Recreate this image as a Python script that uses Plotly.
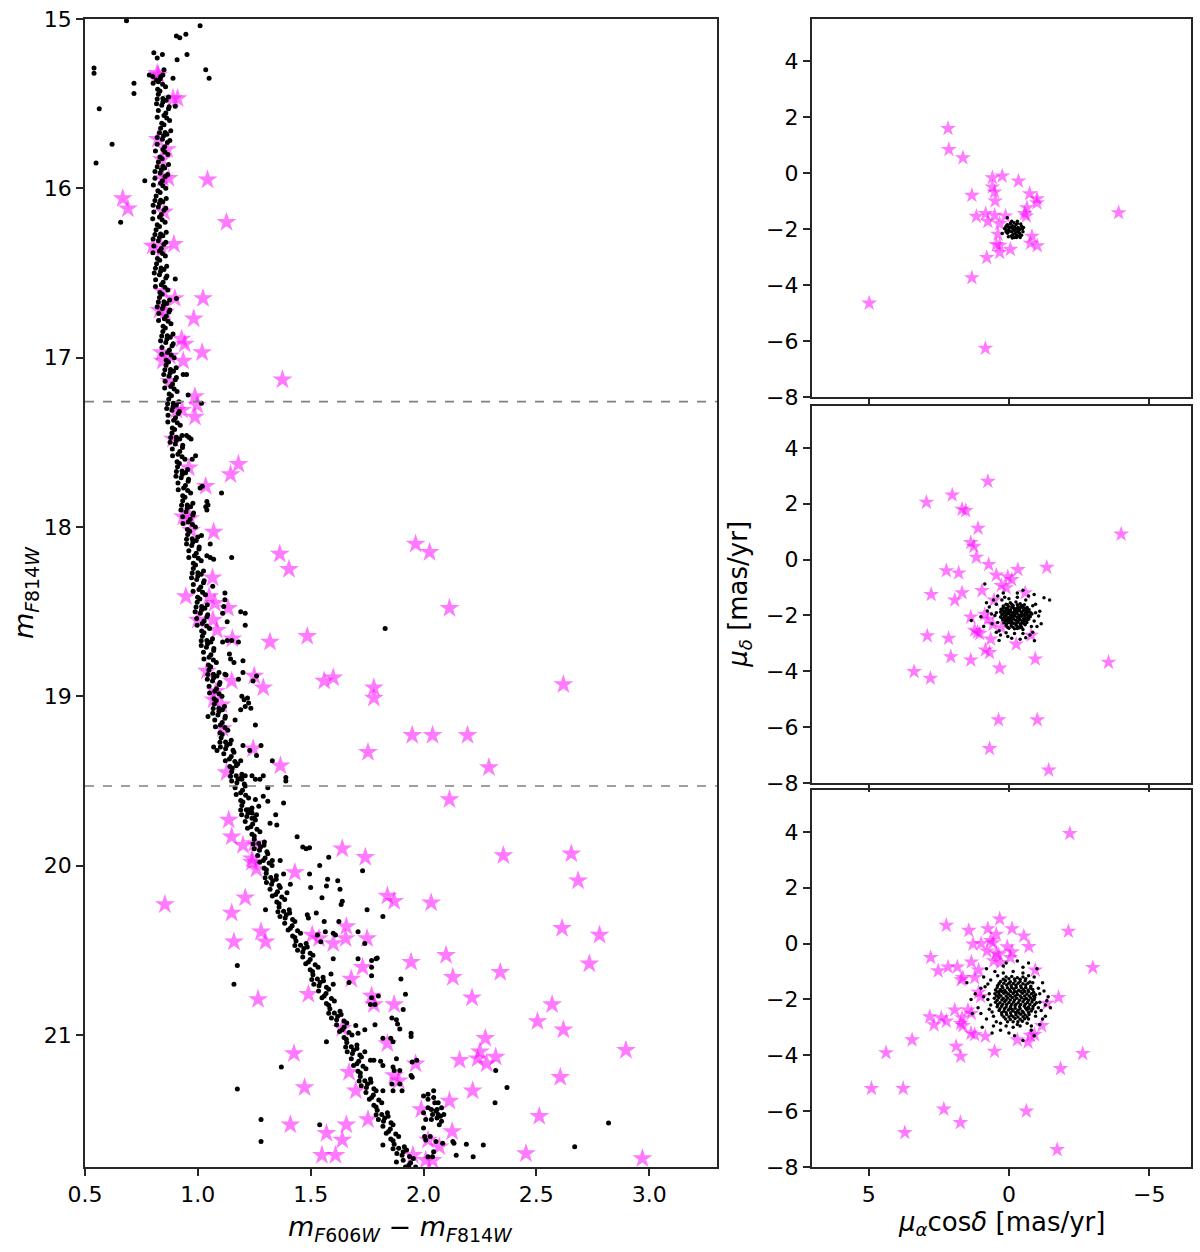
import plotly.graph_objects as go

# ---------------- CMD (left panel) ----------------
# main-sequence ridge members: (colour m606-m814, magnitude m814)
cmd_ridge = [
(0.800,15.34),(0.825,15.37),(0.845,15.33),(0.833,15.355),
(0.822,15.415),(0.857,15.40),(0.802,15.38),(0.844,15.385),(0.832,15.425),
(0.870,15.46),(0.825,15.445),(0.845,15.47),(0.820,15.472),
(0.860,15.48),(0.840,15.51),(0.873,15.518),(0.817,15.50),(0.845,15.49),
(0.825,15.54),(0.850,15.57),(0.870,15.53),(0.858,15.555),
(0.840,15.615),(0.875,15.60),(0.820,15.58),(0.862,15.585),(0.850,15.625),
(0.880,15.66),(0.835,15.645),(0.855,15.67),(0.830,15.672),
(0.863,15.68),(0.843,15.71),(0.876,15.718),(0.820,15.70),(0.848,15.69),
(0.820,15.74),(0.845,15.77),(0.865,15.73),(0.853,15.755),
(0.832,15.815),(0.867,15.80),(0.812,15.78),(0.854,15.785),(0.842,15.825),
(0.870,15.86),(0.825,15.845),(0.845,15.87),(0.820,15.872),
(0.853,15.88),(0.833,15.91),(0.866,15.918),(0.810,15.90),(0.838,15.89),
(0.810,15.94),(0.835,15.97),(0.855,15.93),(0.843,15.955),
(0.823,16.015),(0.858,16.00),(0.803,15.98),(0.845,15.985),(0.833,16.025),
(0.860,16.06),(0.815,16.045),(0.835,16.07),(0.810,16.072),
(0.845,16.08),(0.825,16.11),(0.858,16.118),(0.802,16.10),(0.830,16.09),
(0.805,16.14),(0.830,16.17),(0.850,16.13),(0.838,16.155),
(0.820,16.215),(0.855,16.20),(0.800,16.18),(0.842,16.185),(0.830,16.225),
(0.860,16.26),(0.815,16.245),(0.835,16.27),(0.810,16.272),
(0.845,16.28),(0.825,16.31),(0.858,16.318),(0.802,16.30),(0.830,16.29),
(0.805,16.34),(0.830,16.37),(0.850,16.33),(0.838,16.355),
(0.821,16.415),(0.856,16.40),(0.801,16.38),(0.843,16.385),(0.831,16.425),
(0.862,16.46),(0.817,16.445),(0.837,16.47),(0.812,16.472),
(0.850,16.48),(0.830,16.51),(0.863,16.518),(0.807,16.50),(0.835,16.49),
(0.813,16.54),(0.838,16.57),(0.858,16.53),(0.846,16.555),
(0.832,16.615),(0.867,16.60),(0.812,16.58),(0.854,16.585),(0.842,16.625),
(0.875,16.66),(0.830,16.645),(0.850,16.67),(0.825,16.672),
(0.863,16.68),(0.843,16.71),(0.876,16.718),(0.820,16.70),(0.848,16.69),
(0.827,16.74),(0.852,16.77),(0.872,16.73),(0.860,16.755),
(0.846,16.815),(0.881,16.80),(0.826,16.78),(0.868,16.785),(0.856,16.825),
(0.890,16.86),(0.845,16.845),(0.865,16.87),(0.840,16.872),
(0.878,16.88),(0.858,16.91),(0.891,16.918),(0.835,16.90),(0.863,16.89),
(0.841,16.94),(0.866,16.97),(0.886,16.93),(0.874,16.955),
(0.860,17.015),(0.895,17.00),(0.840,16.98),(0.882,16.985),(0.870,17.025),
(0.904,17.06),(0.859,17.045),(0.879,17.07),(0.854,17.072),
(0.892,17.08),(0.872,17.11),(0.905,17.118),(0.849,17.10),(0.877,17.09),
(0.855,17.14),(0.880,17.17),(0.900,17.13),(0.888,17.155),
(0.873,17.215),(0.908,17.20),(0.853,17.18),(0.895,17.185),(0.883,17.225),
(0.916,17.26),(0.871,17.245),(0.891,17.27),(0.866,17.272),
(0.905,17.28),(0.885,17.31),(0.918,17.318),(0.862,17.30),(0.890,17.29),
(0.868,17.34),(0.893,17.37),(0.913,17.33),(0.901,17.355),
(0.887,17.415),(0.922,17.40),(0.867,17.38),(0.909,17.385),(0.897,17.425),
(0.930,17.46),(0.885,17.445),(0.905,17.47),(0.880,17.472),
(0.920,17.48),(0.900,17.51),(0.933,17.518),(0.877,17.50),(0.905,17.49),
(0.887,17.54),(0.912,17.57),(0.932,17.53),(0.920,17.555),
(0.908,17.615),(0.943,17.60),(0.888,17.58),(0.930,17.585),(0.918,17.625),
(0.955,17.66),(0.910,17.645),(0.930,17.67),(0.905,17.672),
(0.946,17.68),(0.926,17.71),(0.959,17.718),(0.903,17.70),(0.931,17.69),
(0.912,17.74),(0.937,17.77),(0.957,17.73),(0.945,17.755),
(0.933,17.815),(0.968,17.80),(0.913,17.78),(0.955,17.785),(0.943,17.825),
(0.978,17.86),(0.933,17.845),(0.953,17.87),(0.928,17.872),
(0.968,17.88),(0.948,17.91),(0.981,17.918),(0.925,17.90),(0.953,17.89),
(0.933,17.94),(0.958,17.97),(0.978,17.93),(0.966,17.955),
(0.954,18.015),(0.989,18.00),(0.934,17.98),(0.976,17.985),(0.964,18.025),
(1.000,18.06),(0.955,18.045),(0.975,18.07),(0.950,18.072),
(0.993,18.08),(0.973,18.11),(1.006,18.118),(0.950,18.10),(0.978,18.09),
(0.960,18.14),(0.985,18.17),(1.005,18.13),(0.993,18.155),
(0.980,18.215),(1.015,18.20),(0.960,18.18),(1.002,18.185),(0.990,18.225),
(1.025,18.26),(0.980,18.245),(1.000,18.27),(0.975,18.272),
(1.015,18.28),(0.995,18.31),(1.028,18.318),(0.972,18.30),(1.000,18.29),
(0.980,18.34),(1.005,18.37),(1.025,18.33),(1.013,18.355),
(0.999,18.415),(1.034,18.40),(0.979,18.38),(1.021,18.385),(1.009,18.425),
(1.042,18.46),(0.997,18.445),(1.017,18.47),(0.992,18.472),
(1.031,18.48),(1.011,18.51),(1.044,18.518),(0.988,18.50),(1.016,18.49),
(0.995,18.54),(1.020,18.57),(1.040,18.53),(1.028,18.555),
(1.017,18.615),(1.052,18.60),(0.997,18.58),(1.039,18.585),(1.027,18.625),
(1.065,18.66),(1.020,18.645),(1.040,18.67),(1.015,18.672),
(1.058,18.68),(1.038,18.71),(1.071,18.718),(1.015,18.70),(1.043,18.69),
(1.025,18.74),(1.050,18.77),(1.070,18.73),(1.058,18.755),
(1.047,18.815),(1.082,18.80),(1.027,18.78),(1.069,18.785),(1.057,18.825),
(1.094,18.86),(1.049,18.845),(1.069,18.87),(1.044,18.872),
(1.085,18.88),(1.065,18.91),(1.098,18.918),(1.042,18.90),(1.070,18.89),
(1.050,18.94),(1.075,18.97),(1.095,18.93),(1.083,18.955),
(1.072,19.015),(1.107,19.00),(1.052,18.98),(1.094,18.985),(1.082,19.025),
(1.118,19.06),(1.073,19.045),(1.093,19.07),(1.068,19.072),
(1.109,19.08),(1.089,19.11),(1.122,19.118),(1.066,19.10),(1.094,19.09),
(1.075,19.14),(1.100,19.17),(1.120,19.13),(1.108,19.155),
(1.098,19.215),(1.133,19.20),(1.078,19.18),(1.120,19.185),(1.108,19.225),
(1.148,19.26),(1.103,19.245),(1.123,19.27),(1.098,19.272),
(1.143,19.28),(1.123,19.31),(1.156,19.318),(1.100,19.30),(1.128,19.29),
(1.115,19.34),(1.140,19.37),(1.160,19.33),(1.148,19.355),
(1.142,19.415),(1.177,19.40),(1.122,19.38),(1.164,19.385),(1.152,19.425),
(1.195,19.46),(1.150,19.445),(1.170,19.47),(1.145,19.472),
(1.193,19.48),(1.173,19.51),(1.206,19.518),(1.150,19.50),(1.178,19.49),
(1.165,19.54),(1.190,19.57),(1.210,19.53),(1.198,19.555),
(1.190,19.615),(1.225,19.60),(1.170,19.58),(1.212,19.585),(1.200,19.625),
(1.240,19.66),(1.195,19.645),(1.215,19.67),(1.190,19.672),
(1.237,19.68),(1.217,19.71),(1.250,19.718),(1.194,19.70),(1.222,19.69),
(1.210,19.74),(1.235,19.77),(1.255,19.73),(1.243,19.755),
(1.240,19.815),(1.275,19.80),(1.220,19.78),(1.262,19.785),(1.250,19.825),
(1.295,19.86),(1.250,19.845),(1.270,19.87),(1.245,19.872),
(1.293,19.88),(1.273,19.91),(1.306,19.918),(1.250,19.90),(1.278,19.89),
(1.265,19.94),(1.290,19.97),(1.310,19.93),(1.298,19.955),
(1.294,20.015),(1.329,20.00),(1.274,19.98),(1.316,19.985),(1.304,20.025),
(1.348,20.06),(1.303,20.045),(1.323,20.07),(1.298,20.072),
(1.347,20.08),(1.327,20.11),(1.360,20.118),(1.304,20.10),(1.332,20.09),
(1.320,20.14),(1.345,20.17),(1.365,20.13),(1.353,20.155),
(1.350,20.215),(1.385,20.20),(1.330,20.18),(1.372,20.185),(1.360,20.225),
(1.405,20.26),(1.360,20.245),(1.380,20.27),(1.355,20.272),
(1.407,20.28),(1.387,20.31),(1.420,20.318),(1.364,20.30),(1.392,20.29),
(1.385,20.34),(1.410,20.37),(1.430,20.33),(1.418,20.355),
(1.420,20.415),(1.455,20.40),(1.400,20.38),(1.442,20.385),(1.430,20.425),
(1.480,20.46),(1.435,20.445),(1.455,20.47),(1.430,20.472),
(1.485,20.48),(1.465,20.51),(1.498,20.518),(1.442,20.50),(1.470,20.49),
(1.465,20.54),(1.490,20.57),(1.510,20.53),(1.498,20.555),
(1.498,20.615),(1.533,20.60),(1.478,20.58),(1.520,20.585),(1.508,20.625),
(1.555,20.66),(1.510,20.645),(1.530,20.67),(1.505,20.672),
(1.557,20.68),(1.537,20.71),(1.570,20.718),(1.514,20.70),(1.542,20.69),
(1.535,20.74),(1.560,20.77),(1.580,20.73),(1.568,20.755),
(1.570,20.815),(1.605,20.80),(1.550,20.78),(1.592,20.785),(1.580,20.825),
(1.630,20.86),(1.585,20.845),(1.605,20.87),(1.580,20.872),
(1.635,20.88),(1.615,20.91),(1.648,20.918),(1.592,20.90),(1.620,20.89),
(1.615,20.94),(1.640,20.97),(1.660,20.93),(1.648,20.955),
(1.648,21.015),(1.683,21.00),(1.628,20.98),(1.670,20.985),(1.658,21.025),
(1.705,21.06),(1.660,21.045),(1.680,21.07),(1.655,21.072),
(1.705,21.08),(1.685,21.11),(1.718,21.118),(1.662,21.10),(1.690,21.09),
(1.680,21.14),(1.705,21.17),(1.725,21.13),(1.713,21.155),
(1.710,21.215),(1.745,21.20),(1.690,21.18),(1.732,21.185),(1.720,21.225),
(1.765,21.26),(1.720,21.245),(1.740,21.27),(1.715,21.272),
(1.767,21.28),(1.747,21.31),(1.780,21.318),(1.724,21.30),(1.752,21.29),
(1.745,21.34),(1.770,21.37),(1.790,21.33),(1.778,21.355),
(1.780,21.415),(1.815,21.40),(1.760,21.38),(1.802,21.385),(1.790,21.425),
(1.840,21.46),(1.795,21.445),(1.815,21.47),(1.790,21.472),
(1.843,21.48),(1.823,21.51),(1.856,21.518),(1.800,21.50),(1.828,21.49),
(1.820,21.54),(1.845,21.57),(1.865,21.53),(1.853,21.555),
(1.855,21.615),(1.890,21.60),(1.835,21.58),(1.877,21.585),(1.865,21.625),
(1.915,21.66),(1.870,21.645),(1.890,21.67),(1.865,21.672),
(1.925,21.68),(1.905,21.71),(1.938,21.718),(1.882,21.70),(1.910,21.69),
(1.910,21.74),(1.935,21.77),(1.955,21.73),(1.943,21.755),(1.965,21.78),(1.920,21.78),
]

# scattered black stars (field / binaries / evolved)
cmd_scatter = [
(0.684,15.01),(1.010,15.04),(0.905,15.10),(0.920,15.11),(0.947,15.09),(0.805,15.20),
(0.843,15.21),(0.820,15.23),(0.908,15.24),(0.952,15.21),(0.540,15.29),(0.540,15.32),
(1.035,15.30),(1.050,15.35),(0.785,15.33),(0.850,15.30),(0.836,15.34),(0.817,15.36),
(0.890,15.35),(0.717,15.38),(0.717,15.44),(0.563,15.53),(0.900,15.515),(0.620,15.74),
(0.549,15.85),(0.765,15.955),(0.658,16.20),(0.900,16.535),(0.905,16.65),(0.935,17.10),
(0.950,17.10),
(0.957,17.22),(1.016,17.27),(0.950,17.46),(0.960,17.47),(0.970,17.48),(0.990,17.58),
(0.975,17.60),(1.105,17.80),(1.020,17.76),(1.010,17.77),(1.040,17.85),(1.035,17.88),
(1.040,17.90),(1.045,17.87),(1.016,18.05),(1.055,18.10),(1.040,18.17),(1.055,18.18),
(1.070,18.19),(1.150,18.18),(1.830,18.60),
(1.066,18.35),(1.120,18.39),(1.120,18.43),(1.115,18.47),(1.110,18.51),(1.190,18.50),
(1.210,18.51),(1.210,18.58),(1.130,18.56),(1.110,18.68),(1.130,18.67),(1.150,18.67),
(1.180,18.68),(1.140,18.75),(1.145,18.78),(1.160,18.80),(1.200,18.79),(1.120,18.87),
(1.125,18.875),(1.180,18.90),(1.200,18.86),(1.245,18.91),(1.260,18.88),(1.195,19.00),
(1.205,19.02),(1.220,19.01),(1.225,19.04),(1.235,19.07),(1.210,19.06),(1.190,19.08),
(1.165,19.14),(1.255,19.17),(1.045,19.12),(1.070,19.30),(1.085,19.32),(1.200,19.29),
(1.230,19.32),(1.260,19.35),(1.280,19.29),(1.190,19.38),(1.170,19.41),(1.330,19.38),
(1.240,19.47),(1.255,19.49),(1.210,19.47),(1.195,19.49),(1.290,19.47),(1.275,19.49),
(1.390,19.48),(1.390,19.50),(1.310,19.54),(1.290,19.59),(1.255,19.61),(1.270,19.65),
(1.310,19.62),(1.380,19.63),(1.225,19.67),(1.240,19.69),(1.260,19.70),(1.240,19.72),
(1.345,19.70),(1.320,19.75),(1.440,19.83),(1.465,19.89),(1.480,19.90),(1.495,19.895),
(1.580,19.95),(1.330,19.97),(1.365,19.97),(1.350,19.76),
(1.730,20.03),(1.540,20.00),(1.495,20.05),(1.380,20.05),(1.575,20.08),(1.620,20.09),
(1.570,20.12),(1.630,20.14),(1.500,20.13),(1.410,20.11),(1.395,20.16),(1.550,20.19),
(1.640,20.21),(1.635,20.23),(1.750,20.26),(1.820,20.30),(1.300,20.26),(1.485,20.29),
(1.490,20.31),(1.525,20.28),(1.560,20.33),(1.565,20.39),(1.600,20.40),(1.625,20.33),
(1.610,20.41),(1.710,20.39),(1.740,20.46),(1.530,20.41),(1.545,20.45),(1.600,20.55),
(1.710,20.55),(1.770,20.56),(1.790,20.55),(1.795,20.545),(1.770,20.60),(1.770,20.65),
(1.590,20.64),(1.600,20.70),(1.670,20.69),(1.900,20.67),(1.800,20.77),(1.770,20.78),
(1.765,20.82),(1.785,20.82),(1.920,20.76),(1.910,20.85),(1.860,20.90),(1.880,20.91),
(1.885,20.935),(1.895,20.965),(1.700,20.945),(1.710,20.99),(1.740,20.97),(1.785,20.94),
(1.820,21.02),(1.855,21.02),(1.865,21.04),(1.945,20.99),(1.945,21.01),(1.570,21.04),
(1.740,21.10),(1.780,21.15),(1.810,21.155),(1.765,21.15),(1.880,21.14),(1.820,21.18),
(1.865,21.19),(1.870,21.21),(1.895,21.21),(1.950,21.16),(1.970,21.15),(1.945,21.24),
(1.950,21.25),(1.860,21.29),(1.895,21.29),(1.820,21.33),(1.865,21.33),(1.905,21.33),
(1.370,21.19),(1.175,20.59),(1.160,20.70),(1.175,21.32),(1.280,21.50),(1.280,21.63),
(1.540,21.53),(1.820,21.65),(1.880,21.75),
(2.000,21.36),(2.020,21.35),(2.045,21.33),(2.020,21.38),(2.045,21.37),(2.050,21.40),
(2.065,21.40),(2.080,21.43),(2.020,21.43),(2.035,21.44),(2.055,21.45),(2.000,21.46),
(2.040,21.47),(2.065,21.47),(2.010,21.50),(2.035,21.50),(2.060,21.49),(2.090,21.47),
(2.080,21.51),(2.070,21.53),(2.000,21.55),(2.005,21.60),(2.010,21.62),(2.030,21.60),
(2.055,21.63),(2.085,21.64),(2.045,21.69),(2.020,21.72),(2.040,21.72),(2.130,21.63),
(2.135,21.64),(2.190,21.645),(2.265,21.65),(2.220,21.72),(2.145,21.71),(2.320,21.21),
(2.370,21.31),(2.317,21.40),(2.820,21.52),(2.670,21.66),(2.060,21.44),(2.075,21.48),
]

# magenta stars (non-members) in the CMD
cmd_stars = [
(0.820,15.32),(0.825,15.33),(0.890,15.47),(0.910,15.47),(0.823,15.71),(0.863,15.77),
(0.840,15.83),(0.845,15.94),(0.870,15.94),(1.043,15.95),(0.667,16.06),(0.690,16.12),
(0.850,16.14),(1.127,16.20),(0.894,16.33),(0.800,16.34),(0.840,16.36),(0.845,16.61),
(0.898,16.65),(1.023,16.65),(0.830,16.72),(0.855,16.73),(0.982,16.77),(0.928,16.89),
(0.942,16.92),(1.019,16.97),(0.840,16.97),(0.876,16.99),(0.935,17.02),(0.845,17.02),
(1.375,17.13),(0.876,17.14),(0.987,17.23),(0.997,17.28),(0.987,17.35),(0.905,17.31),
(0.930,17.31),(0.890,17.48),(1.180,17.63),(1.145,17.69),(1.035,17.76),(0.960,17.65),
(0.935,17.94),(0.965,17.95),(0.970,18.02),(1.070,18.03),(1.363,18.16),(1.404,18.25),
(1.065,18.30),(0.947,18.41),(1.050,18.41),(1.075,18.45),(1.134,18.48),(1.000,18.55),
(1.067,18.55),(1.085,18.61),(1.153,18.66),(1.320,18.68),(1.485,18.645),(1.250,18.88),
(1.290,18.95),(1.560,18.91),(1.600,18.89),(1.780,18.95),(1.780,19.01),(1.040,18.85),
(1.150,18.91),(1.080,18.97),(1.070,19.02),(1.105,19.05),(1.110,19.19),(1.245,19.31),
(1.754,19.33),(1.366,19.41),(1.127,19.45),(1.137,19.73),(1.150,19.83),(1.200,19.88),
(1.250,19.87),(1.240,19.96),(1.640,19.90),(1.742,19.95),(1.965,18.10),(2.027,18.15),
(2.115,18.48),(2.620,18.93),(1.950,19.23),(2.040,19.23),(2.195,19.23),(2.290,19.42),
(2.115,19.61),(2.354,19.94),(2.655,19.93),(2.685,20.09),(1.430,20.04),(1.840,20.18),
(1.870,20.21),(2.034,20.22),(2.614,20.37),(2.780,20.41),(2.735,20.58),(1.507,20.41),
(1.537,20.43),(1.600,20.46),(1.658,20.36),(1.655,20.43),(1.750,20.43),(1.945,20.57),
(2.100,20.53),(2.130,20.66),(2.340,20.63),(1.680,20.67),(1.730,20.60),(2.215,20.78),
(2.570,20.82),(2.505,20.92),(2.620,20.97),(1.490,20.76),(1.770,20.77),(1.780,20.82),
(1.870,20.82),(2.274,21.02),(2.250,21.10),(2.240,21.14),(2.280,21.17),(2.320,21.13),
(2.160,21.15),(2.897,21.09),(1.426,21.11),(1.840,21.05),(1.670,21.22),(1.870,21.24),
(1.890,21.27),(1.965,21.17),(2.606,21.25),(1.473,21.31),(1.700,21.33),(2.218,21.33),
(2.115,21.39),(1.990,21.44),(2.513,21.48),(1.410,21.53),(1.658,21.53),(1.754,21.50),
(1.570,21.58),(1.640,21.62),(2.127,21.57),(2.020,21.62),(2.070,21.66),(1.550,21.71),
(1.610,21.71),(2.454,21.70),(2.010,21.74),(2.040,21.74),(1.953,21.71),(0.854,20.23),
(1.240,19.98),(1.260,20.02),(1.210,20.19),(1.150,20.28),(1.280,20.39),(1.300,20.45),
(1.160,20.45),(1.267,20.79),(1.640,20.96),(2.970,21.73),
]

cut_mags = [17.26, 19.53]

# ---------------- Proper motions (right panels) ----------------
pm_top_black = [
(-0.20,-2.05),(-0.10,-1.95),(-0.30,-2.10),(0.00,-2.00),(-0.40,-2.00),(-0.25,-1.85),
(-0.15,-2.20),(0.05,-2.15),(-0.35,-2.25),(-0.45,-1.90),(0.10,-1.90),(-0.05,-1.80),
(-0.30,-1.80),(-0.20,-2.30),(0.10,-2.10),(-0.50,-2.10),(-0.10,-2.10),(-0.25,-1.98),
(-0.38,-2.15),(0.02,-2.28),(-0.12,-1.88),(-0.42,-1.82),(0.13,-2.00),(-0.28,-2.22),
(-0.08,-2.25),(-0.18,-1.78),(-0.48,-2.00),(0.06,-1.85),(-0.33,-1.95),(-0.22,-2.15),
(-0.02,-2.08),(-0.14,-2.00),(-0.36,-2.05),(-0.05,-1.93),(0.08,-2.05),(-0.27,-2.30),
(-0.40,-2.30),(-0.12,-2.32),(0.15,-1.98),(-0.52,-1.95),(0.06,-1.60),(0.24,-2.16),
(-0.30,-1.72),(-0.10,-1.72),(-0.45,-2.22),(-0.20,-1.92),(-0.32,-2.02),(0.02,-1.92),
]
pm_top_stars = [
(2.17,1.59),(2.14,0.84),(1.64,0.54),(0.59,-0.17),(0.24,-0.11),(-0.34,-0.29),(0.59,-0.50),
(0.51,-0.68),(1.32,-0.80),(0.49,-1.00),(-0.74,-0.74),(-1.00,-0.92),(-1.00,-1.07),
(-0.64,-1.24),(-0.56,-1.45),(-0.62,-1.54),(1.16,-1.55),(0.83,-1.45),(0.51,-1.51),
(0.75,-1.73),(0.33,-1.81),(0.12,-1.54),(0.39,-2.19),(-0.82,-2.26),(0.45,-2.56),
(0.33,-2.58),(0.33,-2.84),(-0.05,-2.73),(-0.77,-2.51),(-1.01,-2.60),(0.79,-3.02),
(1.32,-3.74),(-3.91,-1.42),(4.98,-4.65),(0.84,-6.26),
]

pm_mid_black = [
(-0.05,-1.55),(-0.25,-1.52),(-0.40,-1.58),(0.10,-1.60),(-0.55,-1.62),
(0.20,-1.66),(0.02,-1.68),(-0.15,-1.64),(-0.32,-1.70),(-0.50,-1.66),(-0.65,-1.72),
(0.28,-1.78),(0.12,-1.74),(-0.06,-1.80),(-0.22,-1.76),(-0.38,-1.79),(-0.58,-1.74),(-0.72,-1.80),
(0.30,-1.88),(0.15,-1.86),(0.00,-1.84),(-0.12,-1.90),(-0.28,-1.86),(-0.45,-1.88),(-0.62,-1.85),(-0.78,-1.90),
(0.25,-1.97),(0.08,-1.95),(-0.06,-1.99),(-0.20,-1.94),(-0.35,-1.98),(-0.50,-1.96),(-0.68,-2.00),(-0.82,-1.95),
(0.30,-2.06),(0.16,-2.04),(0.02,-2.08),(-0.14,-2.05),(-0.30,-2.07),(-0.44,-2.03),(-0.60,-2.08),(-0.76,-2.05),
(0.22,-2.16),(0.06,-2.18),(-0.08,-2.14),(-0.24,-2.17),(-0.40,-2.15),(-0.55,-2.19),(-0.70,-2.14),
(0.18,-2.27),(0.00,-2.25),(-0.16,-2.28),(-0.32,-2.24),(-0.48,-2.27),(-0.64,-2.25),
(0.10,-2.36),(-0.08,-2.38),(-0.25,-2.34),(-0.42,-2.37),(-0.58,-2.33),
(0.00,-2.46),(-0.20,-2.48),(-0.38,-2.44),(-0.50,-2.50),
(-0.10,-1.70),(-0.30,-1.80),(-0.15,-2.00),(-0.05,-2.10),(-0.35,-2.10),(-0.25,-2.30),
(0.05,-1.90),(-0.45,-1.95),(-0.20,-1.85),(-0.10,-2.20),(-0.55,-2.00),(-0.30,-2.40),
(0.12,-2.12),(-0.65,-1.95),(-0.40,-1.70),
(0.05,-1.62),(-0.10,-1.60),(-0.30,-1.62),(-0.45,-1.64),(0.20,-1.72),(0.05,-1.76),
(-0.15,-1.72),(-0.30,-1.74),(-0.48,-1.72),(-0.65,-1.78),(0.22,-1.82),(0.08,-1.80),
(-0.05,-1.86),(-0.20,-1.80),(-0.36,-1.84),(-0.52,-1.82),(-0.70,-1.86),(0.18,-1.92),
(0.00,-1.94),(-0.28,-1.92),(-0.42,-2.00),(-0.58,-1.92),(-0.75,-1.98),(0.24,-2.10),
(0.10,-2.02),(-0.08,-2.04),(-0.22,-2.02),(-0.38,-2.02),(-0.52,-2.12),(-0.68,-2.08),
(0.14,-2.20),(-0.02,-2.16),(-0.16,-2.12),(-0.32,-2.20),(-0.48,-2.22),(-0.62,-2.18),
(0.08,-2.30),(-0.08,-2.30),(-0.40,-2.30),(-0.55,-2.30),(-0.15,-2.42),(-0.30,-2.47),
(0.05,-2.42),(-0.45,-2.42),
(0.45,-1.60),(0.40,-2.25),(0.35,-2.55),(-0.85,-1.65),(-0.90,-2.20),(-0.80,-2.40),
(-0.60,-1.45),(0.25,-1.45),(-0.20,-2.65),(0.10,-2.62),(-0.50,-2.65),(0.45,-1.90),
(-0.95,-1.90),(-0.30,-1.35),(0.00,-1.40),
(0.86,-0.87),(-1.25,-1.37),(-1.45,-1.45),(1.34,-2.18),(-0.91,-2.91),(0.04,-2.75),
(-0.10,-2.82),(0.77,-1.84),(0.70,-1.70),(-0.50,-1.10),(-1.06,-2.02),(0.55,-1.45),
(0.60,-2.30),(0.45,-2.60),(-0.95,-1.60),(-1.00,-2.40),(0.40,-1.30),(0.20,-1.20),
(-0.70,-1.30),(-0.85,-2.60),(-0.60,-2.80),(0.30,-2.70),(0.50,-2.00),(0.62,-1.95),
(-1.10,-1.85),(0.90,-2.40),(0.80,-1.55),(-0.30,-1.20),(-0.90,-1.25),(0.35,-2.90),
(-0.40,-2.85),(1.00,-2.05),(-1.15,-2.30),(0.15,-1.35),(-0.75,-2.70),
]
pm_mid_stars = [
(0.75,2.80),(2.02,2.31),(2.94,2.05),(1.67,1.80),(1.54,1.75),(1.10,1.12),(1.36,0.61),
(1.25,0.47),(1.16,0.08),(-4.00,0.91),(0.72,-0.18),(2.23,-0.40),(1.79,-0.48),(0.45,-0.56),
(-0.32,-0.36),(-1.35,-0.28),(0.04,-0.62),(-0.10,-0.72),(0.27,-0.93),(0.10,-1.01),
(0.96,-1.11),(2.77,-1.25),(1.67,-1.19),(1.93,-1.45),(0.53,-1.45),(-0.58,-1.19),
(1.36,-2.06),(0.86,-1.96),(0.75,-2.14),(0.57,-2.32),(0.27,-2.44),(1.22,-2.53),
(1.04,-2.65),(1.12,-2.60),(2.91,-2.73),(2.15,-2.82),(0.65,-2.85),(-0.79,-2.71),
(-0.26,-3.03),(0.84,-3.24),(0.69,-3.33),(2.07,-3.48),(1.36,-3.60),(-0.94,-3.56),
(0.33,-3.89),(3.38,-4.01),(2.80,-4.25),(-3.55,-3.68),(0.37,-5.74),(-1.01,-5.74),
(0.69,-6.77),(-1.42,-7.54),
]

pm_bot_black = [
(0.10,-1.20),(-0.10,-1.18),(-0.30,-1.22),(-0.50,-1.20),
(0.30,-1.36),(0.12,-1.33),(-0.05,-1.37),(-0.22,-1.34),(-0.40,-1.36),(-0.58,-1.33),(-0.75,-1.38),
(0.40,-1.50),(0.25,-1.52),(0.08,-1.48),(-0.08,-1.51),(-0.25,-1.49),(-0.42,-1.52),(-0.60,-1.48),(-0.78,-1.53),
(0.48,-1.66),(0.30,-1.64),(0.15,-1.67),(-0.02,-1.65),(-0.18,-1.63),(-0.35,-1.67),(-0.52,-1.64),(-0.68,-1.66),(-0.85,-1.64),
(0.50,-1.80),(0.35,-1.82),(0.18,-1.78),(0.02,-1.81),(-0.15,-1.79),(-0.30,-1.82),(-0.48,-1.78),(-0.64,-1.81),(-0.80,-1.80),(-0.95,-1.83),
(0.52,-1.96),(0.36,-1.94),(0.20,-1.97),(0.04,-1.95),(-0.12,-1.93),(-0.28,-1.96),(-0.45,-1.94),(-0.62,-1.97),(-0.78,-1.95),(-0.92,-1.93),
(0.48,-2.10),(0.32,-2.12),(0.15,-2.08),(0.00,-2.11),(-0.17,-2.09),(-0.33,-2.12),(-0.50,-2.08),(-0.66,-2.11),(-0.82,-2.09),(-0.98,-2.12),
(0.42,-2.26),(0.26,-2.24),(0.10,-2.27),(-0.06,-2.25),(-0.22,-2.23),(-0.38,-2.26),(-0.55,-2.24),(-0.70,-2.27),(-0.86,-2.25),
(0.35,-2.40),(0.18,-2.42),(0.02,-2.38),(-0.15,-2.41),(-0.32,-2.39),(-0.48,-2.42),(-0.64,-2.38),(-0.80,-2.41),
(0.25,-2.56),(0.08,-2.54),(-0.08,-2.57),(-0.25,-2.55),(-0.42,-2.53),(-0.58,-2.56),(-0.72,-2.54),
(0.12,-2.70),(-0.05,-2.72),(-0.22,-2.68),(-0.40,-2.71),(-0.56,-2.69),
(-0.20,-1.72),(-0.40,-1.88),(0.10,-1.88),(-0.05,-2.02),(-0.25,-2.18),(-0.55,-2.00),
(0.25,-2.02),(-0.10,-2.35),(-0.70,-1.72),(0.35,-1.72),(-0.35,-2.48),(0.05,-1.58),
(-0.60,-2.32),(0.40,-2.20),(-0.90,-2.00),
(0.20,-1.28),(0.00,-1.26),(-0.20,-1.27),(-0.40,-1.28),(-0.60,-1.26),
(0.35,-1.43),(0.18,-1.42),(0.00,-1.42),(-0.16,-1.43),(-0.33,-1.42),(-0.50,-1.44),(-0.68,-1.42),
(0.42,-1.58),(0.22,-1.58),(-0.10,-1.58),(-0.26,-1.57),(-0.44,-1.58),(-0.60,-1.57),(-0.78,-1.60),
(0.42,-1.73),(0.25,-1.72),(0.10,-1.74),(-0.06,-1.72),(-0.28,-1.73),(-0.42,-1.72),(-0.56,-1.72),(-0.88,-1.74),
(0.44,-1.88),(0.28,-1.88),(-0.05,-1.87),(-0.22,-1.88),(-0.56,-1.88),(-0.72,-1.88),(-0.88,-1.88),
(0.42,-2.03),(0.10,-2.02),(-0.20,-2.02),(-0.38,-2.03),(-0.70,-2.03),(-0.85,-2.02),
(0.40,-2.18),(0.22,-2.17),(0.08,-2.18),(-0.10,-2.17),(-0.42,-2.18),(-0.58,-2.17),(-0.75,-2.18),(-0.92,-2.18),
(0.32,-2.33),(0.16,-2.33),(-0.04,-2.32),(-0.22,-2.32),(-0.40,-2.33),(-0.72,-2.33),(-0.85,-2.33),
(0.26,-2.48),(0.10,-2.47),(-0.06,-2.48),(-0.24,-2.47),(-0.52,-2.48),(-0.70,-2.47),
(0.18,-2.63),(0.00,-2.63),(-0.15,-2.62),(-0.32,-2.63),(-0.50,-2.62),(-0.65,-2.63),
(0.05,-2.80),(-0.15,-2.80),(-0.32,-2.80),(-0.48,-2.78),
(0.75,-1.45),(0.70,-1.80),(0.65,-2.20),(0.60,-2.45),(-1.05,-1.60),(-1.10,-1.80),
(-1.05,-2.30),(-0.95,-2.45),(0.30,-2.85),(-0.70,-2.70),(-0.30,-2.90),(0.40,-1.15),
(-0.70,-1.15),(-0.85,-1.40),(-0.15,-3.00),(0.55,-2.95),(-1.20,-2.70),(1.00,-2.50),
(0.90,-1.90),(-0.50,-0.85),(0.10,-0.70),(-1.30,-2.20),
(1.50,-1.40),(1.20,-1.80),(1.10,-2.30),(1.30,-2.50),(0.90,-1.20),(0.80,-2.70),
(0.95,-3.00),(0.60,-3.20),(0.30,-3.10),(-0.20,-3.30),(-0.50,-3.47),(-0.80,-3.10),
(-1.10,-2.90),(-1.30,-2.60),(-1.48,-2.30),(-1.40,-1.90),(-1.20,-1.40),(-1.00,-0.90),
(-0.70,-0.70),(-0.30,-0.62),(0.20,-0.80),(0.50,-1.00),(0.85,-1.55),(0.70,-2.35),
(0.75,-2.00),(-1.10,-2.10),(-1.25,-1.70),(-0.95,-2.60),(-0.80,-2.95),(0.45,-2.80),
(0.10,-2.95),(-0.40,-2.95),(0.20,-1.05),(-0.50,-1.05),(1.00,-1.60),(-1.35,-2.05),
(0.65,-1.30),(-0.90,-1.20),(0.55,-2.60),(-0.65,-2.85),(-1.15,-2.40),(1.35,-2.00),
(-0.15,-1.00),(0.00,-3.20),(-0.90,-3.30),(0.80,-0.90),
]
pm_bot_stars = [
(-2.17,3.94),(0.33,0.88),(2.23,0.65),(1.43,0.47),(0.75,0.53),(0.45,0.33),(0.65,0.11),
(-0.11,0.53),(-0.53,0.27),(-2.12,0.44),(1.28,-0.02),(0.99,0.00),(0.57,0.03),(0.78,-0.27),
(0.45,-0.35),(0.37,-0.40),(0.06,-0.12),(-0.11,-0.30),(-0.05,-0.50),(-0.71,-0.11),
(2.79,-0.50),(1.34,-0.66),(2.17,-0.84),(1.84,-0.84),(2.52,-0.98),(1.08,-0.95),
(0.54,-0.62),(0.30,-0.68),(-0.94,-0.95),(-2.99,-0.86),(1.64,-1.22),(1.70,-1.30),
(1.22,-1.22),(1.08,-1.75),(1.01,-1.90),(-1.77,-1.93),(-1.36,-2.14),(1.93,-2.38),
(1.46,-2.38),(1.34,-2.50),(1.67,-2.66),(2.82,-2.62),(2.41,-2.66),(2.67,-2.91),
(2.23,-2.78),(1.72,-2.86),(1.64,-2.94),(1.35,-3.21),(1.22,-3.26),(0.84,-3.32),
(-1.17,-2.94),(-0.30,-3.45),(-0.77,-3.29),(-0.91,-3.26),(-0.68,-3.53),(3.45,-3.45),
(1.88,-3.68),(1.72,-4.04),(0.51,-3.86),(4.38,-3.91),(-2.63,-3.94),(-1.84,-4.48),
(4.90,-5.19),(3.77,-5.19),(2.32,-5.93),(-0.62,-6.00),(1.73,-6.41),(3.71,-6.77),
(-1.72,-7.38),
]

# tick definitions
mag_ticks = [15, 16, 17, 18, 19, 20, 21]
color_ticks = [0.5, 1.0, 1.5, 2.0, 2.5, 3.0]
pm_y_ticks = [-8, -6, -4, -2, 0, 2, 4]
pm_x_ticks = [5, 0, -5]


def xs(pts):
    return [p[0] for p in pts]


def ys(pts):
    return [p[1] for p in pts]


def minus(v):
    s = f"{v:g}"
    return s.replace("-", "\u2212")


STAR_COLOR = "rgba(255,0,255,0.52)"
FONT = "DejaVu Sans"

fig = go.Figure()

# CMD
fig.add_trace(go.Scatter(x=xs(cmd_stars), y=ys(cmd_stars), mode="markers",
                         marker=dict(symbol="star", size=15, color=STAR_COLOR, line=dict(width=0)),
                         xaxis="x", yaxis="y", showlegend=False, hoverinfo="skip"))
all_black = cmd_ridge + cmd_scatter
fig.add_trace(go.Scatter(x=xs(all_black), y=ys(all_black), mode="markers",
                         marker=dict(symbol="circle", size=5, color="black", line=dict(width=0)),
                         xaxis="x", yaxis="y", showlegend=False, hoverinfo="skip"))

# PM panels
panels = [("x2", "y2", pm_top_stars, pm_top_black),
          ("x3", "y3", pm_mid_stars, pm_mid_black),
          ("x4", "y4", pm_bot_stars, pm_bot_black)]
for xa, ya, st, bk in panels:
    fig.add_trace(go.Scatter(x=xs(st), y=ys(st), mode="markers",
                             marker=dict(symbol="star", size=12, color=STAR_COLOR, line=dict(width=0)),
                             xaxis=xa, yaxis=ya, showlegend=False, hoverinfo="skip"))
    fig.add_trace(go.Scatter(x=xs(bk), y=ys(bk), mode="markers",
                             marker=dict(symbol="circle", size=3.5, color="black", line=dict(width=0)),
                             xaxis=xa, yaxis=ya, showlegend=False, hoverinfo="skip"))

# dashed magnitude cuts
for m in cut_mags:
    fig.add_shape(type="line", xref="x domain", yref="y", x0=0, x1=1, y0=m, y1=m,
                  line=dict(color="#808080", width=1.6, dash="dash"))

axis_common = dict(showline=True, linecolor="#262626", linewidth=1.6, mirror=True,
                   ticks="outside", ticklen=7, tickwidth=1.6, tickcolor="#262626",
                   showgrid=False, zeroline=False,
                   tickfont=dict(family=FONT, size=22, color="black"))

W, H = 1200, 1252
ml, mr, mt, mb = 85, 7, 13, 85
pw, ph = W - ml - mr, H - mt - mb


def dx(px0, px1):
    return [(px0 - ml) / pw, (px1 - ml) / pw]


def dy(top, bottom):
    return [(H - mb - bottom) / ph, (H - mb - top) / ph]


fig.update_layout(
    width=W, height=H, margin=dict(l=ml, r=mr, t=mt, b=mb),
    paper_bgcolor="white", plot_bgcolor="white",
    font=dict(family=FONT, color="black"),
    xaxis=dict(axis_common, domain=dx(85, 718), range=[0.5, 3.3],
               tickvals=color_ticks, ticktext=[f"{v:.1f}" for v in color_ticks], anchor="y"),
    yaxis=dict(axis_common, domain=dy(13, 1167), range=[21.78, 15.0],
               tickvals=mag_ticks, ticktext=[str(v) for v in mag_ticks], anchor="x"),
    xaxis2=dict(axis_common, domain=dx(813, 1193), range=[7.03, -6.49], anchor="y2",
                tickvals=pm_x_ticks, showticklabels=False),
    yaxis2=dict(axis_common, domain=dy(13, 393), range=[-8, 5.5], anchor="x2",
                tickvals=pm_y_ticks, ticktext=[minus(v) for v in pm_y_ticks]),
    xaxis3=dict(axis_common, domain=dx(813, 1193), range=[7.03, -6.49], anchor="y3",
                tickvals=pm_x_ticks, showticklabels=False),
    yaxis3=dict(axis_common, domain=dy(402, 781), range=[-8, 5.5], anchor="x3",
                tickvals=pm_y_ticks, ticktext=[minus(v) for v in pm_y_ticks]),
    xaxis4=dict(axis_common, domain=dx(813, 1193), range=[7.03, -6.49], anchor="y4",
                tickvals=pm_x_ticks, ticktext=[minus(v) for v in pm_x_ticks]),
    yaxis4=dict(axis_common, domain=dy(788, 1167), range=[-8, 5.5], anchor="x4",
                tickvals=pm_y_ticks, ticktext=[minus(v) for v in pm_y_ticks]),
)


def px_x(p):
    return (p - ml) / pw


def px_y(p):
    return (H - mb - p) / ph


annots = [
    dict(text="<i>m</i><sub><i>F</i>606<i>W</i></sub> \u2212 <i>m</i><sub><i>F</i>814<i>W</i></sub>",
         x=px_x(401), y=px_y(1229), textangle=0, size=27),
    dict(text="<i>m</i><sub><i>F</i>814<i>W</i></sub>",
         x=px_x(25), y=px_y(590), textangle=-90, size=27),
    dict(text="<i>\u03bc</i><sub><i>\u03b1</i></sub>cos<i>\u03b4</i> [mas/yr]",
         x=px_x(1003), y=px_y(1224), textangle=0, size=26),
    dict(text="<i>\u03bc</i><sub><i>\u03b4</i></sub> [mas/yr]",
         x=px_x(741), y=px_y(591), textangle=-90, size=26),
]
for a in annots:
    fig.add_annotation(text=a["text"], x=a["x"], y=a["y"], xref="paper", yref="paper",
                       xanchor="center", yanchor="middle", showarrow=False,
                       textangle=a["textangle"], font=dict(family=FONT, size=a["size"], color="black"))

fig.write_html("out.html")
